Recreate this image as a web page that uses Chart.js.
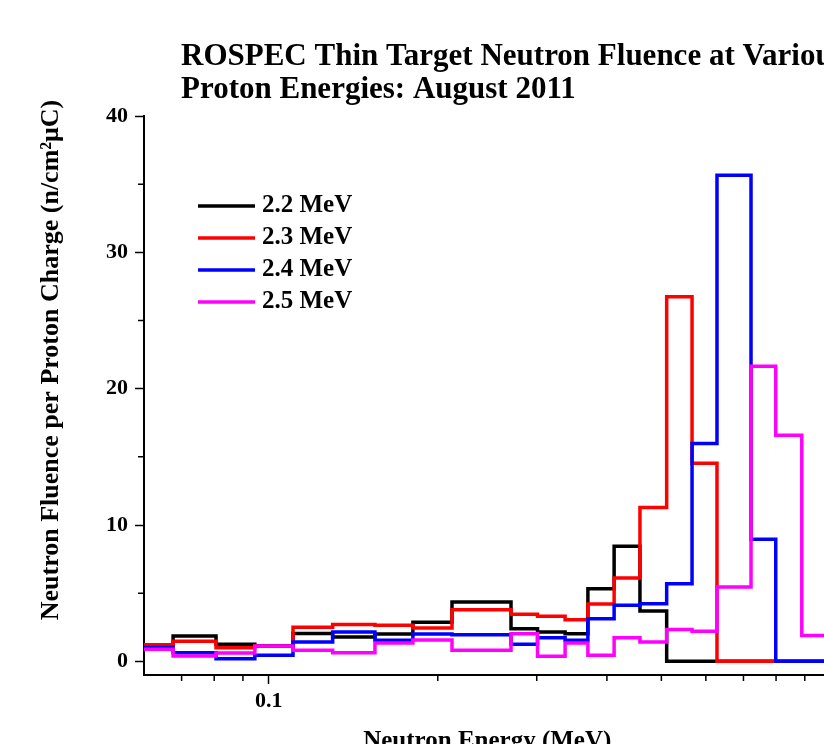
<!DOCTYPE html>
<html>
<head>
<meta charset="utf-8">
<script src="https://cdn.jsdelivr.net/npm/chart.js@4.4.1/dist/chart.umd.min.js"></script>
<style>
  html, body { margin: 0; padding: 0; overflow: hidden; background: #fff; }
  #area { position: absolute; left: 0; top: 0; width: 840px; height: 770px; }
</style>
</head>
<body>
<div id="area"><canvas id="grafico"></canvas></div>
<script>
// ==========================================================
// DATA
// ==========================================================

// left edges of the ROSPEC bins (MeV); the last one closes the last bin
const binEdges = [0.06, 0.0676, 0.0806, 0.0945, 0.1105, 0.130, 0.1546, 0.1806, 0.212, 0.270,
  0.301, 0.337, 0.370, 0.412, 0.458, 0.511, 0.567, 0.628, 0.722, 0.799, 0.889, 1.0];

const fluence22 = [1.2, 1.86, 1.25, 1.15, 2.05, 1.78, 2.0, 2.87, 4.35, 2.4, 2.15, 2.03, 5.33, 8.44, 3.69, 0, 0, 0, 0, 0, 0];
const fluence23 = [1.22, 1.47, 1.0, 1.1, 2.5, 2.7, 2.65, 2.45, 3.79, 3.45, 3.3, 3.05, 4.2, 6.12, 11.28, 26.74, 14.53, 0, 0, 0, 0];
const fluence24 = [1.02, 0.64, 0.2, 0.44, 1.42, 2.15, 1.54, 2.0, 1.96, 1.25, 1.74, 1.54, 3.13, 4.11, 4.23, 5.7, 15.98, 35.65, 8.95, 0, 0];
const fluence25 = [0.88, 0.39, 0.62, 1.12, 0.81, 0.64, 1.34, 1.57, 0.81, 2.03, 0.37, 1.34, 0.44, 1.74, 1.42, 2.33, 2.2, 5.45, 21.65, 16.59, 1.9];

const serieNomes = ['2.2 MeV', '2.3 MeV', '2.4 MeV', '2.5 MeV'];
const serieCores = ['#000000', '#ff0000', '#0000ff', '#ff00ff'];

const xMajorTicks = [0.1, 1];
const xMinorTicks = [0.07, 0.08, 0.09, 0.2, 0.3, 0.4, 0.5, 0.6, 0.7, 0.8, 0.9];
const yMajorTicks = [0, 10, 20, 30, 40];
const yMinorTicks = [5, 15, 25, 35];

const tituloLinhas = ['ROSPEC Thin Target Neutron Fluence at Various', 'Proton Energies: August 2011'];
const tituloY = 'Neutron Fluence per Proton Charge (n/cm\u00B2\u03BCC)';
const tituloX = 'Neutron Energy (MeV)';

const FONTE = '"Liberation Serif", "Times New Roman", serif';

// ==========================================================
// HELPERS
// ==========================================================

function montarDegraus(valores) {
  // one point per bin edge, the last edge repeats the last bin value
  return binEdges.map((e, i) => ({ x: e, y: valores[Math.min(i, valores.length - 1)] }));
}

const todasSeries = [fluence22, fluence23, fluence24, fluence25];

const datasets = todasSeries.map((valores, i) => ({
  label: serieNomes[i],
  data: montarDegraus(valores),
  borderColor: serieCores[i],
  backgroundColor: serieCores[i],
  borderWidth: 3.5,
  stepped: 'before',
  pointRadius: 0,
  fill: false,
  borderJoinStyle: 'miter',
  order: todasSeries.length - i // last series drawn on top
}));

// titles, legend and minor ticks drawn straight on the canvas
const extrasPlugin = {
  id: 'extras',
  afterDraw(chart) {
    const ctx = chart.ctx;
    const { x, y } = chart.scales;
    ctx.save();

    // minor ticks
    ctx.strokeStyle = '#000';
    ctx.lineWidth = 1.5;
    ctx.beginPath();
    xMinorTicks.forEach(v => {
      const px = x.getPixelForValue(v);
      ctx.moveTo(px, x.top);
      ctx.lineTo(px, x.top + 6);
    });
    yMinorTicks.forEach(v => {
      const py = y.getPixelForValue(v);
      ctx.moveTo(y.right, py);
      ctx.lineTo(y.right - 6, py);
    });
    ctx.stroke();

    // main title
    ctx.fillStyle = '#000';
    ctx.font = 'bold 31px ' + FONTE;
    ctx.textAlign = 'left';
    ctx.textBaseline = 'alphabetic';
    tituloLinhas.forEach((t, i) => ctx.fillText(t, 181, 65 + i * 33));

    // y title
    ctx.save();
    ctx.translate(51, 360);
    ctx.rotate(-Math.PI / 2);
    ctx.font = 'bold 26px ' + FONTE;
    ctx.textAlign = 'center';
    ctx.textBaseline = 'middle';
    ctx.fillText(tituloY, 0, 0);
    ctx.restore();

    // legend
    ctx.font = 'bold 25px ' + FONTE;
    ctx.textBaseline = 'middle';
    ctx.lineWidth = 3.5;
    serieNomes.forEach((nome, i) => {
      const ly = 206 + i * 32;
      ctx.strokeStyle = serieCores[i];
      ctx.beginPath();
      ctx.moveTo(198, ly);
      ctx.lineTo(255, ly);
      ctx.stroke();
      ctx.fillText(nome, 262, ly);
    });

    ctx.restore();
  }
};

// ==========================================================
// CHART
// ==========================================================

window.addEventListener('load', () => {
  const ctx = document.getElementById('grafico');
  new Chart(ctx, {
    type: 'line',
    data: { datasets },
    options: {
      responsive: true,
      maintainAspectRatio: false,
      animation: false,
      layout: { padding: { left: 0, top: 116, right: 9, bottom: 0 } },
      scales: {
        x: {
          type: 'logarithmic',
          min: 0.06,
          max: 1.0,
          afterBuildTicks: (scale) => { scale.ticks = xMajorTicks.map(v => ({ value: v, major: true })); },
          afterFit: (scale) => { scale.height = 95; },
          ticks: {
            autoSkip: false,
            maxRotation: 0,
            padding: 4,
            color: '#000',
            font: { family: FONTE, size: 22, weight: 'bold' },
            callback: (v) => String(v)
          },
          grid: { drawOnChartArea: false, tickLength: 9, tickColor: '#000', tickWidth: 1.5 },
          border: { color: '#000', width: 2 },
          title: {
            display: true,
            text: tituloX,
            color: '#000',
            font: { family: FONTE, size: 25, weight: 'bold' },
            padding: { top: 0, bottom: 13 }
          }
        },
        y: {
          min: -1,
          max: 40,
          afterBuildTicks: (scale) => { scale.ticks = yMajorTicks.map(v => ({ value: v })); },
          afterFit: (scale) => { scale.width = 144; },
          ticks: {
            padding: 7,
            color: '#000',
            font: { family: FONTE, size: 22, weight: 'bold' }
          },
          grid: { drawOnChartArea: false, tickLength: 9, tickColor: '#000', tickWidth: 1.5 },
          border: { color: '#000', width: 2 }
        }
      },
      plugins: {
        legend: { display: false },
        title: { display: false },
        tooltip: { enabled: false }
      }
    },
    plugins: [extrasPlugin]
  });
});
</script>
</body>
</html>
